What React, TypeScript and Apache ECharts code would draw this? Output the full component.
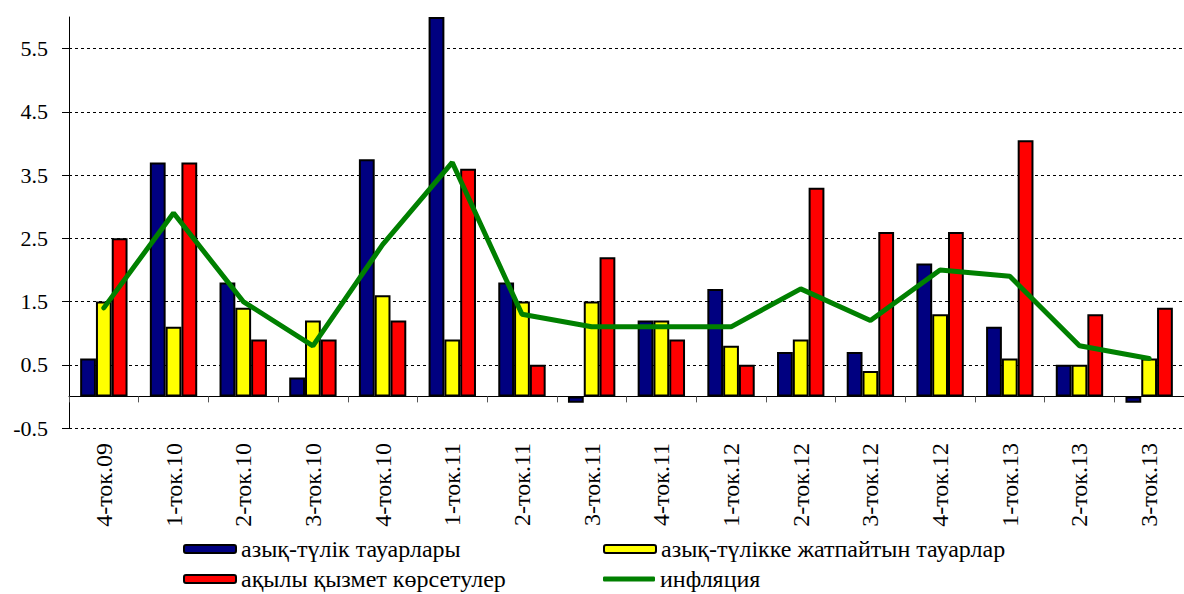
import React, { useEffect, useRef } from "react";
import * as echarts from "echarts";

const categories = [
  "4-ток.09", "1-ток.10", "2-ток.10", "3-ток.10", "4-ток.10", "1-ток.11", "2-ток.11", "3-ток.11",
  "4-ток.11", "1-ток.12", "2-ток.12", "3-ток.12", "4-ток.12", "1-ток.13", "2-ток.13", "3-ток.13",
];
const foodGoods = [0.6, 3.7, 1.8, 0.3, 3.75, 6.0, 1.8, -0.1, 1.2, 1.7, 0.7, 0.7, 2.1, 1.1, 0.5, -0.1];
const nonFoodGoods = [1.5, 1.1, 1.4, 1.2, 1.6, 0.9, 1.5, 1.5, 1.2, 0.8, 0.9, 0.4, 1.3, 0.6, 0.5, 0.6];
const paidServices = [2.5, 3.7, 0.9, 0.9, 1.2, 3.6, 0.5, 2.2, 0.9, 0.5, 3.3, 2.6, 2.6, 4.05, 1.3, 1.4];
const inflation = [1.4, 2.9, 1.5, 0.8, 2.4, 3.7, 1.3, 1.1, 1.1, 1.1, 1.7, 1.2, 2.0, 1.9, 0.8, 0.6];
const yTickLabels = [-0.5, 0.5, 1.5, 2.5, 3.5, 4.5, 5.5];

const seriesNames = [
  "азық-түлік тауарлары",
  "азық-түлікке жатпайтын тауарлар",
  "ақылы қызмет көрсетулер",
  "инфляция",
];

const FONT = "Liberation Serif";

export default function App() {
  const ref = useRef<HTMLDivElement>(null);
  useEffect(() => {
    if (!ref.current) return;
    const chart = echarts.init(ref.current, null, { renderer: "svg" });
    const barBorder = { borderColor: "#000", borderWidth: 2 };
    const legendText = { fontSize: 24, fontFamily: FONT, color: "#000" };
    const mkLegend = (name: any, left: number, center: number, h: number) => ({
      orient: "vertical",
      left,
      top: center - 12,
      padding: 0,
      itemWidth: 52,
      itemHeight: h,
      data: [name],
      textStyle: legendText,
      selectedMode: false,
    });
    chart.setOption({
      animation: false,
      backgroundColor: "#fff",
      textStyle: { fontFamily: FONT, color: "#000" },
      grid: { left: 69, top: 17, bottom: 166, right: -15, containLabel: false },
      xAxis: [
        {
          type: "category",
          data: categories,
          position: "bottom",
          axisLine: { show: true, onZero: true, lineStyle: { color: "#000", width: 1 } },
          axisTick: { show: true, length: 6, lineStyle: { color: "#555" } },
          axisLabel: { show: false },
          splitLine: { show: false },
        },
        {
          type: "category",
          data: categories,
          position: "bottom",
          axisLine: { show: false, onZero: false },
          axisTick: { show: false },
          axisLabel: {
            show: true,
            rotate: 90,
            margin: 15,
            fontSize: 24,
            fontFamily: FONT,
            color: "#000",
            interval: 0,
          },
          splitLine: { show: false },
        },
      ],
      yAxis: {
        type: "value",
        min: -0.5,
        max: 6,
        interval: 1,
        axisLine: { show: true, lineStyle: { color: "#000", width: 1 } },
        axisTick: { show: true, length: 7, inside: false, lineStyle: { color: "#000" }, customValues: yTickLabels },
        axisLabel: {
          fontSize: 22,
          fontFamily: FONT,
          color: "#000",
          margin: 21,
          customValues: yTickLabels,
          formatter: (v: number) => v.toFixed(1),
        },
        splitLine: {
          show: true,
          lineStyle: {
            type: [3, 3],
            width: 1,
            color: ["#000", "#000", "#000", "#000", "#000", "#000", "#000", "rgba(0,0,0,0)"],
          },
        },
      },
      legend: [
        mkLegend(seriesNames[0], 183, 549, 8),
        mkLegend(seriesNames[1], 603, 549, 8),
        mkLegend(seriesNames[2], 183, 579, 8),
        mkLegend({ name: seriesNames[3], icon: "roundRect" }, 603, 579, 5),
      ],
      series: [
        {
          name: seriesNames[0],
          type: "bar",
          data: foodGoods,
          barGap: "0%",
          barCategoryGap: "32%",
          itemStyle: { color: "#000080", ...barBorder },
        },
        {
          name: seriesNames[1],
          type: "bar",
          data: nonFoodGoods,
          barGap: "0%",
          barCategoryGap: "32%",
          itemStyle: { color: "#FFFF00", ...barBorder },
        },
        {
          name: seriesNames[2],
          type: "bar",
          data: paidServices,
          barGap: "0%",
          barCategoryGap: "32%",
          itemStyle: { color: "#FF0000", ...barBorder },
        },
        {
          name: seriesNames[3],
          type: "line",
          data: inflation,
          symbol: "none",
          showSymbol: false,
          lineStyle: { color: "#008000", width: 5, cap: "round" },
          itemStyle: { color: "#008000" },
          z: 5,
        },
      ],
    });
    return () => chart.dispose();
  }, []);
  return (
    <div
      ref={ref}
      style={{ position: "fixed", left: 0, top: 0, width: 1184, height: 594, background: "#fff" }}
    />
  );
}
